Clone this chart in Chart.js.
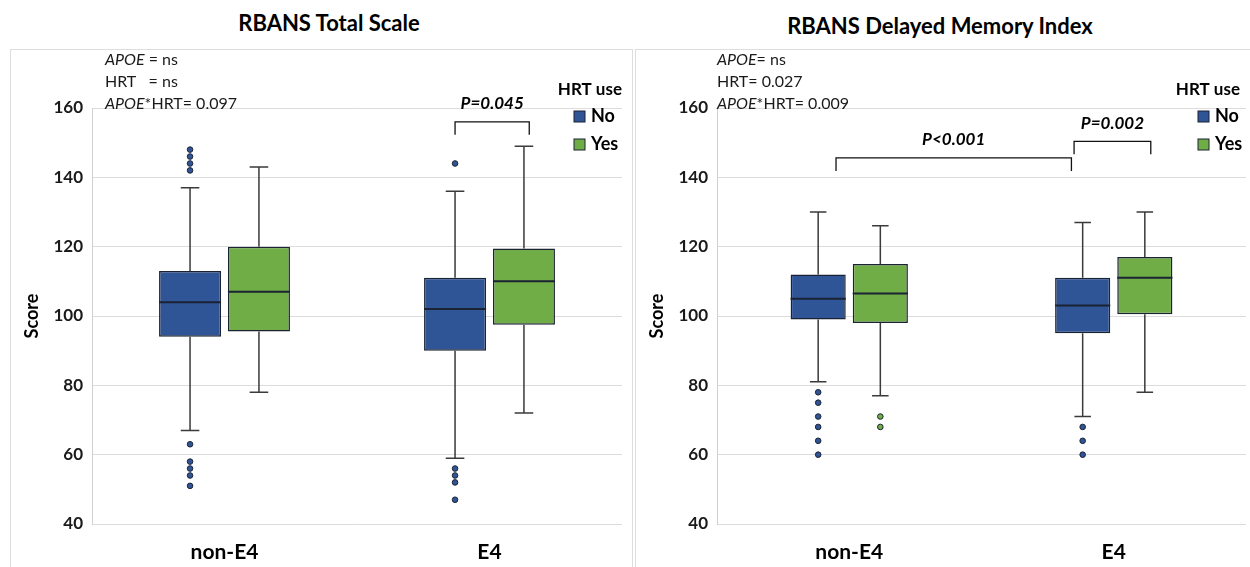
<!DOCTYPE html>
<html>
<head>
<meta charset="utf-8">
<script src="https://cdn.jsdelivr.net/npm/chart.js@4.4.1/dist/chart.umd.min.js"></script>
<style>
  body { margin: 0; width: 1250px; height: 567px; background: #fff; overflow: hidden; position: relative; font-family: Lato, sans-serif; }
  .title { position: absolute; font-weight: bold; font-size: 22px; line-height: 26px; color: #000; text-align: center; }
  .panel { position: absolute; border: 1px solid #dedede; }
  .wrap { position: absolute; top: 0; height: 567px; }
</style>
</head>
<body>
<div class="title" style="left:0;top:10px;width:658px">RBANS Total Scale</div>
<div class="title" style="left:630px;top:13px;width:620px">RBANS Delayed Memory Index</div>
<div class="panel" style="left:10px;top:49px;width:621px;height:540px"></div>
<div class="panel" style="left:635px;top:49px;width:640px;height:540px"></div>
<div class="wrap" style="left:0;width:632px"><canvas id="total"></canvas></div>
<div class="wrap" style="left:625px;width:625px"><canvas id="delayed"></canvas></div>

<script>
const groups = ["non-E4", "E4"];
const hrtLabels = ["No", "Yes"];

// y axis
const scoreMin = 40;
const scoreMax = 160;
const scoreStep = 20;

// box summaries per group: [min whisker, Q1, median, Q3, max whisker]
const totalNo = [[67, 94, 104, 113, 137], [59, 90, 102, 111, 136]];
const totalYes = [[78, 95.5, 107, 120, 143], [72, 97.5, 110, 119.5, 149]];
const totalNoOut = [[148, 146, 144, 142, 63, 58, 56, 54, 51], [144, 56, 54, 52, 47]];
const totalYesOut = [[], []];

const delayedNo = [[81, 99, 105, 112, 130], [71, 95, 103, 111, 127]];
const delayedYes = [[77, 98, 106.5, 115, 126], [78, 100.5, 111, 117, 130]];
const delayedNoOut = [[78, 75, 71, 68, 64, 60], [68, 64, 60]];
const delayedYesOut = [[71, 68], []];

// statistics text: [italic part, plain part]
const totalNotes = [["APOE", " = ns"], ["", "HRT   = ns"], ["APOE", "*HRT= 0.097"]];
const delayedNotes = [["APOE", "= ns"], ["", "HRT= 0.027"], ["APOE", "*HRT= 0.009"]];

// brackets: [from category, to category, score, label]
const totalBrackets = [[0.87, 1.15, 156, "P=0.045"]];
const delayedBrackets = [[-0.05, 0.84, 145.6, "P<0.001"], [0.85, 1.14, 150.4, "P=0.002"]];

const blue = "#2F5597";
const green = "#70AD47";
const edge = "#1b2233";

Chart.defaults.font.family = "Lato, sans-serif";
Chart.defaults.color = "#1a1a1a";

// whiskers, medians and outlier dots on top of the floating bars
const boxPlot = {
  id: "boxPlot",
  afterDatasetsDraw(chart) {
    const ctx = chart.ctx;
    const y = chart.scales.y;
    chart.data.datasets.forEach((ds, i) => {
      const meta = chart.getDatasetMeta(i);
      meta.data.forEach((bar, j) => {
        const [lo, q1, med, q3, hi] = ds.stats[j];
        const x = bar.x;
        const half = bar.width / 2;
        const cap = bar.width * 0.15;
        ctx.save();
        ctx.strokeStyle = "#3a3a3a";
        ctx.lineWidth = 1.5;
        ctx.beginPath();
        ctx.moveTo(x, y.getPixelForValue(q3));
        ctx.lineTo(x, y.getPixelForValue(hi));
        ctx.moveTo(x - cap, y.getPixelForValue(hi));
        ctx.lineTo(x + cap, y.getPixelForValue(hi));
        ctx.moveTo(x, y.getPixelForValue(q1));
        ctx.lineTo(x, y.getPixelForValue(lo));
        ctx.moveTo(x - cap, y.getPixelForValue(lo));
        ctx.lineTo(x + cap, y.getPixelForValue(lo));
        ctx.stroke();

        ctx.strokeStyle = edge;
        ctx.lineWidth = 2;
        ctx.beginPath();
        ctx.moveTo(x - half, y.getPixelForValue(med));
        ctx.lineTo(x + half, y.getPixelForValue(med));
        ctx.stroke();

        ds.outliers[j].forEach((v) => {
          ctx.beginPath();
          ctx.arc(x, y.getPixelForValue(v), 2.8, 0, Math.PI * 2);
          ctx.fillStyle = ds.backgroundColor;
          ctx.fill();
          ctx.lineWidth = 1;
          ctx.strokeStyle = edge;
          ctx.stroke();
        });
        ctx.restore();
      });
    });
  },
};

// stats text, significance brackets and legend
const extras = {
  id: "extras",
  afterDraw(chart, args, opts) {
    const ctx = chart.ctx;
    const area = chart.chartArea;
    const x = chart.scales.x;
    const y = chart.scales.y;
    ctx.save();
    ctx.textBaseline = "middle";

    // notes
    opts.notes.forEach((line, k) => {
      const ty = area.top - 48 + k * 22;
      let tx = area.left + opts.notesX;
      ctx.fillStyle = "#1a1a1a";
      ctx.textAlign = "left";
      if (line[0]) {
        ctx.font = "italic 16px Lato";
        ctx.fillText(line[0], tx, ty);
        tx += ctx.measureText(line[0]).width;
      }
      ctx.font = "16px Lato";
      ctx.fillText(line[1], tx, ty);
    });

    // brackets
    opts.brackets.forEach(([a, b, v, label]) => {
      const x0 = x.getPixelForValue(a);
      const x1 = x.getPixelForValue(b);
      const top = y.getPixelForValue(v);
      ctx.strokeStyle = "#111";
      ctx.lineWidth = 1.3;
      ctx.beginPath();
      ctx.moveTo(x0, top + 13);
      ctx.lineTo(x0, top);
      ctx.lineTo(x1, top);
      ctx.lineTo(x1, top + 13);
      ctx.stroke();
      ctx.font = "italic bold 17px Lato";
      ctx.textAlign = "center";
      ctx.fillStyle = "#000";
      ctx.fillText(label, (x0 + x1) / 2, top - 18);
    });

    // legend
    ctx.font = "bold 17px Lato";
    ctx.textAlign = "right";
    ctx.fillStyle = "#000";
    ctx.fillText("HRT use", area.right - opts.legendShift, area.top - 18);
    chart.data.datasets.forEach((ds, i) => {
      const sy = area.top + 8.5 + i * 28;
      const sx = area.right - 48;
      ctx.fillStyle = ds.backgroundColor;
      ctx.fillRect(sx, sy - 5.5, 11, 11);
      ctx.strokeStyle = edge;
      ctx.lineWidth = 1;
      ctx.strokeRect(sx, sy - 5.5, 11, 11);
      ctx.fillStyle = "#000";
      ctx.textAlign = "left";
      ctx.font = "bold 18px Lato";
      ctx.fillText(ds.label, sx + 17, sy);
    });
    ctx.restore();
  },
};

function makeChart(id, no, yes, noOut, yesOut, notes, brackets, catPct, barPct, padRight, notesX, legendShift) {
  const ctx = document.getElementById(id);
  return new Chart(ctx, {
    type: "bar",
    data: {
      labels: groups,
      datasets: [
        {
          label: hrtLabels[0],
          data: no.map((s) => [s[1], s[3]]),
          stats: no,
          outliers: noOut,
          backgroundColor: blue,
          borderColor: edge,
          borderWidth: 1.5,
          borderSkipped: false,
          categoryPercentage: catPct,
          barPercentage: barPct,
        },
        {
          label: hrtLabels[1],
          data: yes.map((s) => [s[1], s[3]]),
          stats: yes,
          outliers: yesOut,
          backgroundColor: green,
          borderColor: edge,
          borderWidth: 1.5,
          borderSkipped: false,
          categoryPercentage: catPct,
          barPercentage: barPct,
        },
      ],
    },
    options: {
      responsive: true,
      maintainAspectRatio: false,
      animation: false,
      layout: { padding: { top: 108, right: padRight, left: 0, bottom: 0 } },
      plugins: {
        legend: { display: false },
        tooltip: { enabled: false },
        extras: { notes: notes, brackets: brackets, notesX: notesX, legendShift: legendShift },
      },
      scales: {
        x: {
          grid: { display: false },
          border: { display: false },
          ticks: { font: { size: 21, weight: "bold" }, color: "#000", padding: 8 },
          afterFit(scale) { scale.height = 43; },
        },
        y: {
          min: scoreMin,
          max: scoreMax,
          ticks: { stepSize: scoreStep, font: { size: 17, weight: "bold" }, color: "#1a1a1a", padding: 9 },
          grid: { color: "#dcdcdc", drawTicks: false, lineWidth: 1 },
          border: { color: "#d0d0d0" },
          title: { display: true, text: "Score", font: { size: 18, weight: "bold" }, color: "#000", padding: { top: 21 } },
          afterFit(scale) { scale.width = 92; },
        },
      },
    },
    plugins: [boxPlot, extras],
  });
}

makeChart("total", totalNo, totalYes, totalNoOut, totalYesOut, totalNotes, totalBrackets, 0.52, 0.9, 10, 13, 0);
makeChart("delayed", delayedNo, delayedYes, delayedNoOut, delayedYesOut, delayedNotes, delayedBrackets, 0.47, 0.887, 4, 0, 6);
</script>
</body>
</html>
